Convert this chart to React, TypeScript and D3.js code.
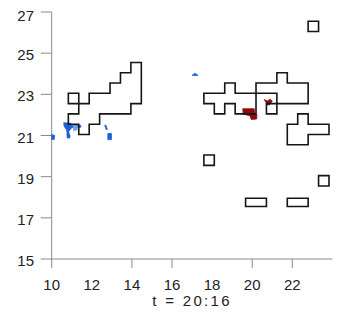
import React from 'react'
import * as d3 from 'd3'

// contour outlines, [lon, lat]
const contourLeft = [[14.47,24.55],[14.47,22.55],[13.95,22.55],[13.95,22.05],[12.39,22.05],[12.39,21.55],[11.87,21.55],[11.87,21.05],[11.35,21.05],[11.35,21.55],[10.83,21.55],[10.83,22.05],[11.35,22.05],[11.35,22.55],[11.87,22.55],[11.87,23.05],[12.91,23.05],[12.91,23.55],[13.43,23.55],[13.43,24.05],[13.95,24.05],[13.95,24.55]]
const contourLeftSquare = [[10.83,22.55],[11.35,22.55],[11.35,23.05],[10.83,23.05]]
const contourMidA = [[17.59,23.05],[18.63,23.05],[18.63,23.55],[19.15,23.55],[19.15,23.05],[20.19,23.05],[20.19,22.05],[19.15,22.05],[19.15,22.55],[18.63,22.55],[18.63,22.05],[18.11,22.05],[18.11,22.55],[17.59,22.55]]
const contourMidB = [[20.19,23.55],[21.23,23.55],[21.23,24.05],[21.75,24.05],[21.75,23.55],[22.79,23.55],[22.79,22.55],[21.23,22.55],[21.23,23.05],[20.19,23.05]]
const contourMidC = [[20.71,22.05],[21.23,22.05],[21.23,22.55],[20.71,22.55]]
const contourRight = [[21.75,21.55],[22.27,21.55],[22.27,22.05],[22.79,22.05],[22.79,21.55],[23.83,21.55],[23.83,21.05],[22.79,21.05],[22.79,20.55],[21.75,20.55]]
const squareTop = [[22.79,26.05],[23.31,26.05],[23.31,26.55],[22.79,26.55]]
const square18 = [[17.59,19.55],[18.11,19.55],[18.11,20.05],[17.59,20.05]]
const rectA = [[19.67,17.55],[20.71,17.55],[20.71,17.95],[19.67,17.95]]
const rectB = [[21.75,17.55],[22.79,17.55],[22.79,17.95],[21.75,17.95]]
const square23 = [[23.31,18.55],[23.83,18.55],[23.83,19.05],[23.31,19.05]]

const contours = [contourLeft, contourLeftSquare, contourMidA, contourMidB, contourMidC, contourRight, squareTop, square18, rectA, rectB, square23]

// filled blobs
const blueBlobs = [
  [[10.0,21.05],[10.15,21.0],[10.12,20.8],[10.0,20.82]],
  [[10.6,21.62],[10.95,21.6],[11.0,21.5],[11.45,21.5],[11.45,21.4],[11.0,21.38],[10.85,21.2],[10.9,20.95],[10.78,20.92],[10.75,21.25],[10.62,21.45]],
  [[10.77,21.05],[10.91,21.02],[10.9,20.88],[10.78,20.88]],
  [[12.64,21.5],[12.7,21.5],[12.78,21.3],[12.72,21.28]],
  [[12.8,21.1],[12.98,21.1],[12.98,20.8],[12.8,20.8]],
  [[17.0,23.92],[17.15,24.03],[17.3,23.92]]
]
const lightBlobs = [
  [[11.05,21.5],[11.3,21.48],[11.28,21.25],[11.08,21.22]]
]
const redBlobs = [
  [[19.53,22.3],[20.1,22.3],[20.12,22.05],[20.24,22.0],[20.22,21.8],[19.95,21.78],[19.9,21.95],[19.55,22.05]],
  [[20.6,22.75],[20.75,22.68],[20.9,22.76],[21.0,22.68],[20.88,22.5],[20.75,22.48],[20.68,22.62]]
]

const yTicks = [15, 17, 19, 21, 23, 25, 27]
const xLabels = [10, 12, 14, 16, 18, 20, 22]
const xTicks = [10, 14, 16, 20, 22]
const title = 't = 20:16'

export default function App() {
  const x = d3.scaleLinear().domain([10, 24]).range([51.7, 332.4])
  const y = d3.scaleLinear().domain([15, 27]).range([259, 12])
  const line = d3.line<number[]>().x(d => x(d[0])).y(d => y(d[1])).curve(d3.curveLinearClosed)
  const font = '"Liberation Sans", Arial, sans-serif'
  const axisColor = '#8a8a8a'

  return (
    <svg width={342} height={324} style={{ position: 'fixed', left: 0, top: 0, background: '#fff' }} fontFamily={font}>
      {/* axes */}
      <line x1={x(10)} x2={x(10)} y1={y(27)} y2={y(15)} stroke={axisColor} strokeWidth={1} />
      <line x1={x(10)} x2={x(24)} y1={y(15)} y2={y(15)} stroke={axisColor} strokeWidth={1} />
      {yTicks.map(t => (
        <g key={'y' + t}>
          <line x1={x(10) - 11} x2={x(10)} y1={y(t)} y2={y(t)} stroke={axisColor} />
          <text x={34} y={y(t) + (t === 27 ? 9 : 7)} textAnchor="end" fontSize={15} fill="#222">{t}</text>
        </g>
      ))}
      {xTicks.map(t => (
        <line key={'xt' + t} x1={x(t)} x2={x(t)} y1={y(15)} y2={y(15) + 9} stroke={axisColor} />
      ))}
      {xLabels.map(t => (
        <text key={'xl' + t} x={x(t)} y={290} textAnchor="middle" fontSize={15} fill="#222">{t}</text>
      ))}
      <text x={(x(10) + x(24)) / 2} y={306} textAnchor="middle" fontSize={15} fill="#222" letterSpacing={2.3}>{title}</text>

      {/* blobs */}
      {blueBlobs.map((b, i) => <path key={'b' + i} d={line(b) || ''} fill="#1f5fd6" stroke="#1f5fd6" strokeWidth={0.8} />)}
      {lightBlobs.map((b, i) => <path key={'lb' + i} d={line(b) || ''} fill="#6fa3ea" />)}
      {redBlobs.map((b, i) => <path key={'r' + i} d={line(b) || ''} fill="#8e0b0b" stroke="#8e0b0b" strokeWidth={0.8} />)}

      {/* contours */}
      {contours.map((c, i) => (
        <path key={'c' + i} d={line(c) || ''} fill="none" stroke="#151515" strokeWidth={1.6} />
      ))}
    </svg>
  )
}
